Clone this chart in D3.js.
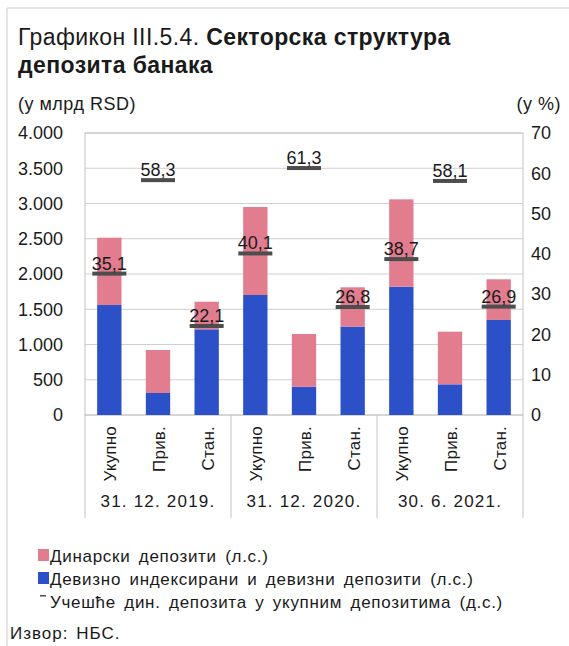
<!DOCTYPE html>
<head>
    <meta charset="utf-8">
    <script src="https://d3js.org/d3.v7.min.js"></script>
    <style>
        body { margin: 0; background: #fff; font-family: "Liberation Sans", Arial, sans-serif; }
        svg text { fill: #1a1a1a; }
    </style>
</head>
<body>
<svg id="chart" width="569" height="646"></svg>
<script>
    // categories
    const groups = ["31. 12. 2019.", "31. 12. 2020.", "30. 6. 2021."];
    const sectors = ["Укупно", "Прив.", "Стан."];
    // values (bn RSD)
    const fxDeposits = [1560, 312, 1215, 1702, 401, 1253, 1820, 435, 1348];
    const dinarDeposits = [955, 610, 392, 1248, 748, 558, 1239, 747, 577];
    // share of dinar deposits (%), right axis
    const dinarShare = [35.1, 58.3, 22.1, 40.1, 61.3, 26.8, 38.7, 58.1, 26.9];
    const leftTicks = [0, 500, 1000, 1500, 2000, 2500, 3000, 3500, 4000];
    const rightTicks = [0, 10, 20, 30, 40, 50, 60, 70];

    const pink = "#e27c8f", blue = "#2b50c8", markColor = "#4d4d4d";
    const svg = d3.select("#chart");
    const plotL = 85, plotR = 523, plotT = 133, plotB = 415;

    // frame
    svg.append("line").attr("x1", 7).attr("x2", 569).attr("y1", 8).attr("y2", 8).attr("stroke", "#ccc");
    svg.append("line").attr("x1", 7).attr("x2", 7).attr("y1", 8).attr("y2", 646).attr("stroke", "#ccc");

    // title
    const t1 = svg.append("text").attr("x", 18).attr("y", 45).style("font-size", "23px").style("letter-spacing", "0.4px");
    t1.append("tspan").text("Графикон III.5.4. ");
    t1.append("tspan").attr("font-weight", "bold").text("Секторска структура");
    svg.append("text").attr("x", 18).attr("y", 73).style("font-size", "23px").style("letter-spacing", "0.4px")
        .attr("font-weight", "bold").text("депозита банака");

    svg.append("text").attr("x", 18).attr("y", 110).style("font-size", "18px").style("letter-spacing", "0.5px").text("(у млрд RSD)");
    svg.append("text").attr("x", 561).attr("y", 110).attr("text-anchor", "end").style("font-size", "18px").style("letter-spacing", "0.5px").text("(у %)");

    const keys = [];
    groups.forEach(g => sectors.forEach(s => keys.push(g + "|" + s)));

    const x = d3.scaleBand().domain(keys).range([plotL, plotR]).paddingInner(0.5).paddingOuter(0.25);
    const y = d3.scaleLinear().domain([0, 4000]).range([plotB, plotT]);
    const y2 = d3.scaleLinear().domain([0, 70]).range([plotB, plotT]);

    // grid
    svg.append("g").selectAll("line").data(leftTicks).join("line")
        .attr("x1", plotL).attr("x2", plotR)
        .attr("y1", d => y(d)).attr("y2", d => y(d))
        .attr("stroke", "#cfcfcf");
    svg.append("rect").attr("x", plotL).attr("y", plotT).attr("width", plotR - plotL).attr("height", plotB - plotT)
        .attr("fill", "none").attr("stroke", "#c4c4c4");

    // left axis
    const ay = svg.append("g").attr("transform", `translate(${plotL - 22},0)`)
        .call(d3.axisLeft(y).tickValues(leftTicks).tickSize(0).tickPadding(0)
            .tickFormat(d => d3.format(",")(d).replace(/,/g, ".")));
    ay.select(".domain").remove();
    ay.selectAll("text").style("font-size", "18px").style("font-family", "Liberation Sans, Arial, sans-serif").attr("fill", "#1a1a1a");

    // right axis
    const ay2 = svg.append("g").attr("transform", `translate(${plotR + 8},0)`)
        .call(d3.axisRight(y2).tickValues(rightTicks).tickSize(0).tickPadding(0));
    ay2.select(".domain").remove();
    ay2.selectAll("text").style("font-size", "18px").style("font-family", "Liberation Sans, Arial, sans-serif").attr("fill", "#1a1a1a");

    // stacked bars
    const rows = keys.map((k, i) => ({ key: k, fx: fxDeposits[i], din: dinarDeposits[i] }));
    const stack = d3.stack().keys(["fx", "din"])(rows);
    const colors = { fx: blue, din: pink };
    svg.append("g").selectAll("g").data(stack).join("g")
        .attr("fill", d => colors[d.key])
        .selectAll("rect").data(d => d).join("rect")
        .attr("x", d => x(d.data.key))
        .attr("width", x.bandwidth())
        .attr("y", d => y(d[1]))
        .attr("height", d => y(d[0]) - y(d[1]));

    // share markers
    const mw = 34;
    svg.append("g").selectAll("rect").data(dinarShare).join("rect")
        .attr("x", (d, i) => x(keys[i]) + x.bandwidth() / 2 - mw / 2)
        .attr("y", d => y2(d) - 2)
        .attr("width", mw).attr("height", 4)
        .attr("fill", markColor);
    svg.append("g").selectAll("text").data(dinarShare).join("text")
        .attr("x", (d, i) => x(keys[i]) + x.bandwidth() / 2)
        .attr("y", d => y2(d) - 4)
        .attr("text-anchor", "middle")
        .style("font-size", "18px")
        .text(d => d3.format(".1f")(d).replace(".", ","));

    // category axis
    const sepX = [plotL, (x(keys[2]) + x(keys[3]) + x.bandwidth()) / 2, (x(keys[5]) + x(keys[6]) + x.bandwidth()) / 2, plotR];
    svg.append("g").selectAll("line").data(sepX).join("line")
        .attr("x1", d => d).attr("x2", d => d)
        .attr("y1", plotB).attr("y2", 518)
        .attr("stroke", "#c4c4c4");

    svg.append("g").selectAll("text").data(keys).join("text")
        .attr("transform", k => `translate(${x(k) + x.bandwidth() / 2 + 1},426) rotate(-90)`)
        .attr("text-anchor", "end")
        .attr("dy", "0.35em")
        .style("font-size", "17px")
        .style("letter-spacing", "0.2px")
        .text(k => k.split("|")[1]);

    svg.append("g").selectAll("text").data(groups).join("text")
        .attr("x", (g, i) => (x(keys[i * 3]) + x(keys[i * 3 + 2]) + x.bandwidth()) / 2)
        .attr("y", 507)
        .attr("text-anchor", "middle")
        .style("font-size", "17px")
        .style("letter-spacing", "1.2px")
        .text(g => g);

    // legend
    const legend = svg.append("g").style("font-size", "17px").style("letter-spacing", "0.7px").style("word-spacing", "3px");
    legend.append("rect").attr("x", 38).attr("y", 549).attr("width", 11).attr("height", 12).attr("fill", pink);
    legend.append("text").attr("x", 50).attr("y", 562).text("Динарски депозити (л.с.)");
    legend.append("rect").attr("x", 38).attr("y", 572).attr("width", 11).attr("height", 12).attr("fill", blue);
    legend.append("text").attr("x", 50).attr("y", 585).text("Девизно индексирани и девизни депозити (л.с.)");
    legend.append("rect").attr("x", 40).attr("y", 595).attr("width", 6).attr("height", 1.5).attr("fill", markColor);
    legend.append("text").attr("x", 50).attr("y", 608).text("Учешће дин. депозита у укупним депозитима (д.с.)");

    svg.append("text").attr("x", 10).attr("y", 639).style("font-size", "17px").style("letter-spacing", "1px").style("word-spacing", "2px").text("Извор: НБС.");
</script>
</body>
